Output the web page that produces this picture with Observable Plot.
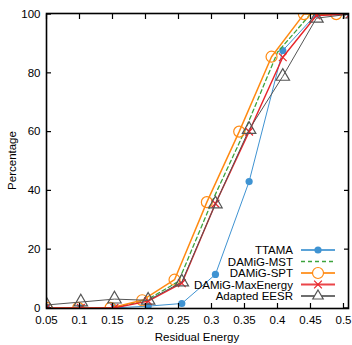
<!DOCTYPE html>
<html><head><meta charset="utf-8">
<script src="https://cdn.jsdelivr.net/npm/d3@7"></script>
<script src="https://cdn.jsdelivr.net/npm/@observablehq/plot@0.6"></script>
<style>
body{margin:0;background:#fff}
#chart svg{font-family:"Liberation Sans",Arial,Helvetica,sans-serif;background:#fff}
</style>
</head><body><div id="chart"></div>
<script>
// ---- data ----
const xTicks = [0.05, 0.1, 0.15, 0.2, 0.25, 0.3, 0.35, 0.4, 0.45, 0.5];
const xTickLabels = ["0.05", "0.1", "0.15", "0.2", "0.25", "0.3", "0.35", "0.4", "0.45", "0.5"];
const yTicks = [0, 20, 40, 60, 80, 100];

// x positions where each series' points are drawn
const xNominal = [0.05, 0.1, 0.15, 0.2, 0.25, 0.3, 0.35, 0.4, 0.45, 0.5];
const xSPT     = [0.05, 0.098, 0.147, 0.195, 0.244, 0.293, 0.342, 0.391, 0.44, 0.489];
const xShifted = [0.05, 0.102, 0.153, 0.204, 0.255, 0.306, 0.357, 0.408, 0.459, 0.51];

const ttama     = [0, 0, 0, 0.6, 1.5, 11.4, 43, 87.6, 100, 100];
const mst       = [0, 0, 0, 2.5, 9, 35.8, 60, 87, 100, 100];
const spt       = [0, 0, 0, 2.6, 9.6, 36, 60, 85.5, 100, 100];
const maxEnergy = [0, 0, 0, 2.3, 8.4, 35.5, 60, 85.3, 99.5, 100];
const eesr      = [1, 2, 3, 2.6, 8.8, 35.4, 60.7, 78.8, 98.6, 100];

const seriesNames = ["TTAMA", "DAMiG-MST", "DAMiG-SPT", "DAMiG-MaxEnergy", "Adapted EESR"];

// ---- styles ----
const styles = {
  "TTAMA":           {xs: xShifted, ys: ttama,     color: "#3f93d2", width: 1,   dash: null,  symbol: "circle",   r: 3.6, fill: "#3f93d2"},
  "DAMiG-MST":       {xs: xNominal, ys: mst,       color: "#3ca33c", width: 1.3, dash: "4,3", symbol: null},
  "DAMiG-SPT":       {xs: xSPT,     ys: spt,       color: "#ff8a12", width: 1.5, dash: null,  symbol: "circle",   r: 5.5, fill: "none"},
  "DAMiG-MaxEnergy": {xs: xShifted, ys: maxEnergy, color: "#e8242a", width: 1.4, dash: null,  symbol: "times",    r: 3.6, fill: "none"},
  "Adapted EESR":    {xs: xShifted, ys: eesr,      color: "#555555", width: 1,   dash: null,  symbol: "triangle", r: 5,   fill: "none"}
};

const W = 352, H = 345;
const mL = 46, mR = 4, mT = 13, mB = 37;

const marks = [];
for (const name of seriesNames) {
  const s = styles[name];
  const rows = s.xs.map((x, i) => ({x, y: s.ys[i], series: name}));
  marks.push(Plot.line(rows, {x: "x", y: "y", stroke: s.color, strokeWidth: s.width,
    strokeDasharray: s.dash || undefined, clip: true}));
  if (s.symbol) {
    marks.push(Plot.dot(rows, {x: "x", y: "y", symbol: s.symbol, r: s.r,
      stroke: s.color, fill: s.fill, strokeWidth: s.symbol === "circle" && s.fill !== "none" ? 0 : 1.2, clip: true}));
  }
}

const fmt = d => xTickLabels[xTicks.indexOf(d)];
const chart = Plot.plot({
  width: W, height: H,
  marginLeft: mL, marginRight: mR, marginTop: mT, marginBottom: mB,
  style: {fontSize: "11.5px", fontFamily: '"Liberation Sans", Arial, sans-serif', color: "#000", background: "#fff"},
  x: {domain: [0.05, 0.5076], label: null},
  y: {domain: [-0.2, 100.2], label: null},
  marks: [
    ...marks,
    Plot.axisX({anchor: "bottom", ticks: xTicks, tickFormat: fmt, tickSize: 0, tickPadding: 7, label: null, fill: "#000", fontSize: 11.5}),
    Plot.axisX({anchor: "bottom", ticks: xTicks, tickFormat: () => "", tickSize: -5, label: null, stroke: "#000", strokeWidth: 1.2}),
    Plot.axisX({anchor: "top", ticks: xTicks, tickFormat: () => "", tickSize: -5, label: null, stroke: "#000", strokeWidth: 1.2}),
    Plot.axisY({anchor: "left", ticks: yTicks, tickSize: 0, tickPadding: 6, label: null, fill: "#000", fontSize: 11.5}),
    Plot.axisY({anchor: "left", ticks: yTicks, tickFormat: () => "", tickSize: -5, label: null, stroke: "#000", strokeWidth: 1.2}),
    Plot.axisY({anchor: "right", ticks: yTicks, tickFormat: () => "", tickSize: -5, label: null, stroke: "#000", strokeWidth: 1.2}),
    Plot.frame({stroke: "#000", strokeWidth: 1.6})
  ]
});

const svg = d3.select(chart);
// axis titles
svg.append("text").attr("x", (mL + W - mR) / 2).attr("y", H - 4)
  .attr("text-anchor", "middle").attr("font-size", 11.5).attr("fill", "#000").text("Residual Energy");
svg.append("text").attr("transform", `translate(16,${(mT + H - mB) / 2}) rotate(-90)`)
  .attr("text-anchor", "middle").attr("font-size", 11.5).attr("fill", "#000").text("Percentage");

// legend (bottom-right inside the frame)
const right = W - mR, bottom = H - mB;
const symMap = {circle: d3.symbolCircle, times: d3.symbolTimes, triangle: d3.symbolTriangle2};
const leg = svg.append("g");
seriesNames.forEach((name, i) => {
  const s = styles[name];
  const y = bottom - 12 - (seriesNames.length - 1 - i) * 11.5;
  leg.append("text").attr("x", right - 55).attr("y", y).attr("dy", "0.35em")
    .attr("text-anchor", "end").attr("font-size", 11.5).attr("fill", "#000").text(name);
  leg.append("line").attr("x1", right - 47).attr("x2", right - 13).attr("y1", y).attr("y2", y)
    .attr("stroke", s.color).attr("stroke-width", s.dash ? 1.3 : 2)
    .attr("stroke-dasharray", s.dash || null).attr("opacity", s.dash ? 1 : 0.85);
  if (s.symbol) {
    leg.append("path").attr("transform", `translate(${right - 30},${y})`)
      .attr("d", d3.symbol(symMap[s.symbol], s.r * s.r * Math.PI)())
      .attr("fill", s.fill === "none" ? "#fff" : s.fill)
      .attr("stroke", s.fill === "none" ? s.color : "none").attr("stroke-width", 1.2);
  }
});

document.getElementById("chart").appendChild(chart);
</script>
</body></html>
